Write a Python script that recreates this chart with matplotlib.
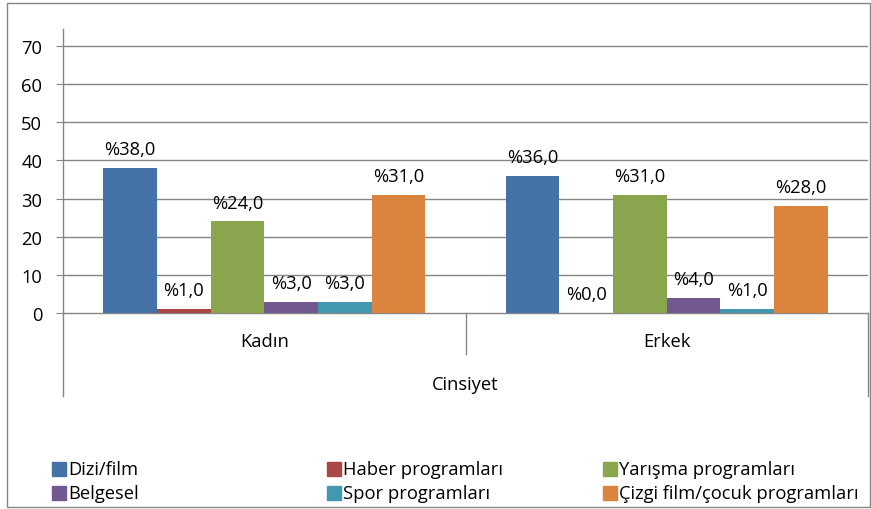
import matplotlib.pyplot as plt
from matplotlib.patches import Rectangle
import numpy as np

plt.rcParams["font.family"] = ["Open Sans", "DejaVu Sans"]

categories = ["Kadın", "Erkek"]
series = ["Dizi/film", "Haber programları", "Yarışma programları",
          "Belgesel", "Spor programları", "Çizgi film/çocuk programları"]
values = [
    [38, 36],   # Dizi/film
    [1, 0],     # Haber programları
    [24, 31],   # Yarışma programları
    [3, 4],     # Belgesel
    [3, 1],     # Spor programları
    [31, 28],   # Çizgi film/çocuk programları
]
colors = ["#4572A7", "#AA4643", "#89A54E", "#71588F", "#4198AF", "#DB843D"]
axis_title = "Cinsiyet"
yticks = [0, 10, 20, 30, 40, 50, 60, 70]

W, H = 871, 510
fig = plt.figure(figsize=(W / 100, H / 100), dpi=100)
ax = fig.add_axes([63 / W, (H - 314) / H, (868 - 63) / W, (314 - 30) / H])

gray = "#868686"
fs = 13.2
x = np.arange(len(categories))
w = 1 / 7.5
for i, (name, vals) in enumerate(zip(series, values)):
    pos = x + (i - 2.5) * w
    ax.bar(pos, vals, width=w, color=colors[i], align="center", zorder=3)
    for px, v in zip(pos, vals):
        ax.annotate("%" + f"{v:.1f}".replace(".", ","), (px, v),
                    xytext=(0, 7), textcoords="offset points",
                    ha="center", va="bottom", fontsize=fs, color="black")

ax.set_xlim(-0.5, 1.5)
ax.set_ylim(0, 74.46)
ax.set_yticks(yticks)
ax.set_xticks([])
for s in ["top", "right"]:
    ax.spines[s].set_visible(False)
for s in ["left", "bottom"]:
    ax.spines[s].set_color(gray)
    ax.spines[s].set_linewidth(1)
ax.tick_params(axis="y", length=5, color=gray, labelsize=fs, pad=10)
for t in yticks[1:]:
    ax.axhline(t, color=gray, lw=1, zorder=1)

tr = ax.get_xaxis_transform()
ax.plot([-0.5, -0.5], [0, -0.292], color=gray, lw=1, transform=tr, clip_on=False)
ax.plot([0.5, 0.5], [0, -0.144], color=gray, lw=1, transform=tr, clip_on=False)
ax.plot([1.5, 1.5], [0, -0.292], color=gray, lw=1, transform=tr, clip_on=False)
for xi, c in zip(x, categories):
    ax.text(xi, -0.099, c, transform=tr, ha="center", va="center", fontsize=fs)
ax.text(0.5, -0.25, axis_title, transform=tr, ha="center", va="center", fontsize=fs)

# legend, three columns in two rows
leg_x = [52, 327, 603]
leg_y = [470, 494]
for i, name in enumerate(series):
    col = i % 3
    row = i // 3
    px, py = leg_x[col], leg_y[row]
    fig.patches.append(Rectangle((px / W, (H - py - 7) / H), 14 / W, 14 / H,
                                 transform=fig.transFigure, color=colors[i]))
    fig.text((px + 16) / W, (H - py) / H, name, ha="left", va="center", fontsize=fs)

fig.patches.append(Rectangle((7 / W, (H - 508) / H), (870 - 7) / W, (508 - 4) / H,
                             transform=fig.transFigure, fill=False, edgecolor=gray, lw=1))

fig.savefig("out.png", dpi=100)
